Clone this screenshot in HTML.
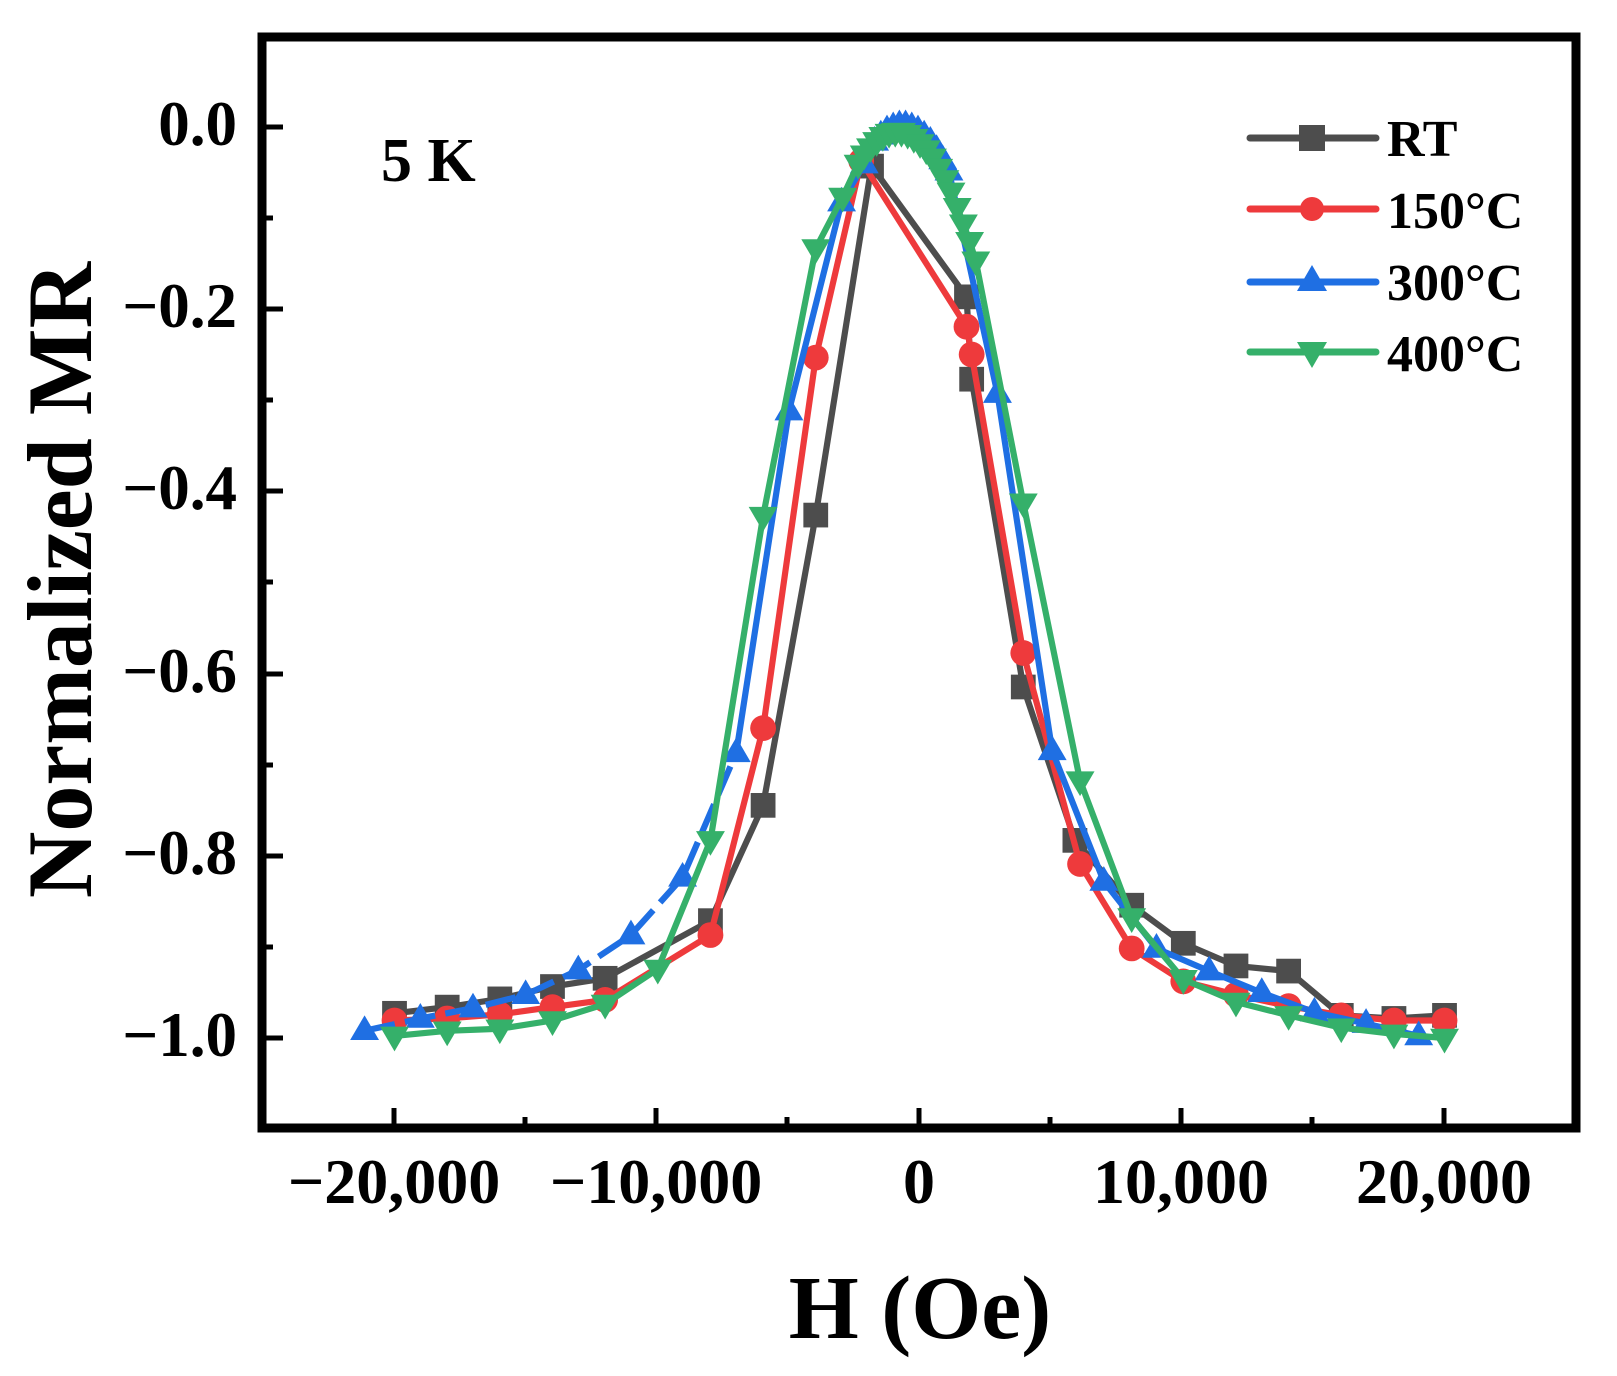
<!DOCTYPE html>
<html><head><meta charset="utf-8"><style>
html,body{margin:0;padding:0;background:#fff;}
svg{display:block;}
text{font-family:"Liberation Serif",serif;font-weight:bold;fill:#000;}
</style></head><body>
<svg width="1617" height="1376" viewBox="0 0 1617 1376" xmlns="http://www.w3.org/2000/svg">
<defs>
<marker id="sq" markerUnits="userSpaceOnUse" markerWidth="26" markerHeight="26" refX="13" refY="13" overflow="visible"><rect x="1" y="1" width="24" height="24" fill="#4d4d4d"/></marker>
<marker id="ci" markerUnits="userSpaceOnUse" markerWidth="26" markerHeight="26" refX="13" refY="13" overflow="visible"><circle cx="13" cy="13" r="12.5" fill="#ee3a3c"/></marker>
<marker id="tu" markerUnits="userSpaceOnUse" markerWidth="28" markerHeight="26" refX="14" refY="15" overflow="visible"><polygon points="14,0 28,24 0,24" fill="#1f6fe3"/></marker>
<marker id="td" markerUnits="userSpaceOnUse" markerWidth="28" markerHeight="26" refX="14" refY="9" overflow="visible"><polygon points="0,0 28,0 14,24" fill="#35b06a"/></marker>
</defs>

<g stroke="#000" stroke-width="5">
<line x1="394" y1="1128" x2="394" y2="1108"/><line x1="656" y1="1128" x2="656" y2="1108"/><line x1="919" y1="1128" x2="919" y2="1108"/><line x1="1181" y1="1128" x2="1181" y2="1108"/><line x1="1444" y1="1128" x2="1444" y2="1108"/>
<line x1="525" y1="1128" x2="525" y2="1117"/><line x1="787" y1="1128" x2="787" y2="1117"/><line x1="1050" y1="1128" x2="1050" y2="1117"/><line x1="1312" y1="1128" x2="1312" y2="1117"/>
<line x1="262" y1="127" x2="283" y2="127"/><line x1="262" y1="309" x2="283" y2="309"/><line x1="262" y1="491" x2="283" y2="491"/><line x1="262" y1="674" x2="283" y2="674"/><line x1="262" y1="856" x2="283" y2="856"/><line x1="262" y1="1038" x2="283" y2="1038"/>
<line x1="262" y1="218" x2="273" y2="218"/><line x1="262" y1="400" x2="273" y2="400"/><line x1="262" y1="582" x2="273" y2="582"/><line x1="262" y1="765" x2="273" y2="765"/><line x1="262" y1="947" x2="273" y2="947"/>
</g>
<rect x="262" y="37" width="1314" height="1091" fill="none" stroke="#000" stroke-width="9"/>

<g transform="translate(919,127) scale(1.03245,1.02938) translate(-889,-122)" fill="none" stroke-width="6" stroke-linejoin="round">
<polyline stroke="#4d4d4d" marker-start="url(#sq)" marker-mid="url(#sq)" marker-end="url(#sq)" points="381,983 432,977 483,969 534,957 585,949 687,893 738,781 789,499 843,160 935,287 940,367 990,666 1040,815 1095,878 1145,915 1196,937 1247,942 1298,985 1349,988 1398,985"/>
<polyline stroke="#ee3a3c" marker-start="url(#ci)" marker-mid="url(#ci)" marker-end="url(#ci)" points="381,990 432,988 483,984 534,977 585,970 687,907 738,706 789,346 833,155 935,316 940,343 990,633 1045,838 1095,920 1145,952 1196,965 1247,976 1298,985 1349,990 1398,990"/>
<polyline stroke="#1f6fe3" stroke-dasharray="30,10" marker-start="url(#tu)" marker-mid="url(#tu)" points="352,1000 406,988 457,978 508,965 559,941 610,907 660,851 712,730"/>
<polyline stroke="#1f6fe3" marker-start="url(#tu)" marker-mid="url(#tu)" marker-end="url(#tu)" points="712,730 763,398 814,195 836,158 846,136 852,130 858,125 864,122 870,120 876,120 882,122 888,125 894,130 900,136 906,144 912,154 918,165 965,381 1018,728 1068,855 1119,920 1170,942 1221,963 1272,982 1322,993 1373,1005"/>
<polyline stroke="#35b06a" marker-start="url(#td)" marker-mid="url(#td)" marker-end="url(#td)" points="381,1005 432,1000 483,998 534,990 585,974 636,940 687,815 738,500 789,240 815,190 830,158 836,149 842,142 848,136 854,131 860,128 866,127 872,127 878,129 884,133 890,138 896,144 902,152 908,162 914,173 920,185 926,200 932,216 938,233 944,252 990,487 1045,757 1095,890 1145,950 1196,972 1247,985 1298,997 1349,1003 1398,1007"/>
</g>

<g stroke-width="7" stroke-linecap="round">
<line x1="1250" y1="138" x2="1376" y2="138" stroke="#4d4d4d"/><rect x="1299" y="125" width="26" height="26" fill="#4d4d4d"/>
<line x1="1250" y1="209" x2="1376" y2="209" stroke="#ee3a3c"/><circle cx="1312" cy="209" r="12" fill="#ee3a3c"/>
<line x1="1250" y1="282" x2="1376" y2="282" stroke="#1f6fe3"/><polygon points="1312,265 1327,291 1297,291" fill="#1f6fe3"/>
<line x1="1250" y1="352" x2="1376" y2="352" stroke="#35b06a"/><polygon points="1297,342 1327,342 1312,368" fill="#35b06a"/>
</g>
<g font-size="52">
<text x="1387" y="156">RT</text>
<text x="1387" y="228">150°C</text>
<text x="1387" y="300">300°C</text>
<text x="1387" y="371">400°C</text>
</g>

<g font-size="63" text-anchor="end">
<text x="237" y="145">0.0</text>
<text x="237" y="327">−0.2</text>
<text x="237" y="509">−0.4</text>
<text x="237" y="692">−0.6</text>
<text x="237" y="874">−0.8</text>
<text x="237" y="1056">−1.0</text>
</g>
<g font-size="64" text-anchor="middle">
<text x="394" y="1203">−20,000</text>
<text x="656" y="1203">−10,000</text>
<text x="919" y="1203">0</text>
<text x="1181" y="1203">10,000</text>
<text x="1444" y="1203">20,000</text>
</g>
<text x="381" y="181" font-size="62">5 K</text>
<text x="920" y="1338" font-size="90" text-anchor="middle">H (Oe)</text>
<text transform="translate(91,580) rotate(-90)" font-size="92" text-anchor="middle">Normalized MR</text>
</svg>
</body></html>
